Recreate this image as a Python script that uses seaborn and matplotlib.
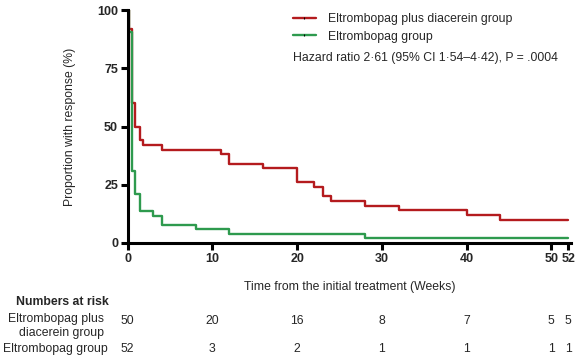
import pandas as pd
import matplotlib
matplotlib.use("Agg")
import matplotlib.pyplot as plt
import matplotlib.transforms as mtransforms
from matplotlib.lines import Line2D
import seaborn as sns

# Kaplan-Meier style step data (weeks, % with response)
combo_time = [0, 0.2, 0.5, 0.9, 1.4, 1.8, 4, 11, 12, 16, 20, 22, 23, 24, 28, 32, 40, 44, 52]
combo_resp = [100, 92, 60, 50, 44, 42, 40, 38, 34, 32, 26, 24, 20, 18, 16, 14, 12, 10, 10]
mono_time = [0, 0.2, 0.5, 0.9, 1.4, 3, 4, 8, 12, 28, 52]
mono_resp = [100, 90.4, 30.8, 21.2, 13.5, 11.5, 7.7, 5.8, 3.8, 1.9, 1.9]

risk_times = [0, 10, 20, 30, 40, 50, 52]
risk_combo = [50, 20, 16, 8, 7, 5, 5]
risk_mono = [52, 3, 2, 1, 1, 1, 1]

groups = ["Eltrombopag plus diacerein group", "Eltrombopag group"]
colors = ["#B41B1E", "#2E9A4E"]

df = pd.concat([
    pd.DataFrame({"time": combo_time, "resp": combo_resp, "group": groups[0]}),
    pd.DataFrame({"time": mono_time, "resp": mono_resp, "group": groups[1]}),
])

sns.set_style("ticks")
plt.rcParams["font.family"] = ["Liberation Sans", "DejaVu Sans"]
fs = 8.8

fig = plt.figure(figsize=(5.86, 3.62), dpi=100)
ax = fig.add_axes([0.218, 0.329, 0.756, 0.643])

for g, c in zip(groups, colors):
    sub = df[df["group"] == g]
    sns.lineplot(data=sub, x="time", y="resp", ax=ax, color=c, lw=1.7,
                 drawstyle="steps-post", sort=False, estimator=None, legend=False)

ax.set_xlim(0, 52.3)
ax.set_ylim(0, 100)
ax.set_xticks(risk_times)
ax.set_yticks([0, 25, 50, 75, 100])
for s in ["top", "right"]:
    ax.spines[s].set_visible(False)
for s in ["left", "bottom"]:
    ax.spines[s].set_linewidth(2.2)
    ax.spines[s].set_color("black")
ax.tick_params(width=2.2, length=5, labelsize=9, color="black", pad=2)
for lab in ax.get_xticklabels() + ax.get_yticklabels():
    lab.set_fontweight("bold")
ax.set_xlabel("Time from the initial treatment (Weeks)", fontsize=fs, labelpad=12)
ax.set_ylabel("Proportion with response (%)", fontsize=fs, labelpad=15)

handles = [Line2D([0], [0], color=c, lw=1.7, marker="|", markersize=2,
                  markeredgecolor="black", markeredgewidth=0.8) for c in colors]
ax.legend(handles, groups, loc="upper left", bbox_to_anchor=(0.372, 0.987),
          frameon=False, fontsize=fs, handlelength=1.9, handletextpad=1.0,
          labelspacing=0.45, borderaxespad=0, borderpad=0)
ax.text(0.372, 0.795, "Hazard ratio 2\u00b761 (95% CI 1\u00b754\u20134\u00b742), P = .0004",
        transform=ax.transAxes, fontsize=fs, va="center", ha="left")

# Numbers at risk table
trans = mtransforms.blended_transform_factory(ax.transData, fig.transFigure)
fig.text(109 / 586, 1 - 302 / 362, "Numbers at risk", fontsize=fs,
         fontweight="bold", ha="right", va="center")
fig.text(104 / 586, 1 - 326 / 362, "Eltrombopag plus\ndiacerein group", fontsize=fs,
         ha="right", va="center", multialignment="right", linespacing=1.15)
fig.text(108 / 586, 1 - 349 / 362, "Eltrombopag group", fontsize=fs,
         ha="right", va="center")
for t, a, b in zip(risk_times, risk_combo, risk_mono):
    ax.text(t, 1 - 321 / 362, str(a), transform=trans, fontsize=fs,
            ha="center", va="center")
    ax.text(t, 1 - 349 / 362, str(b), transform=trans, fontsize=fs,
            ha="center", va="center")

fig.savefig("out.png", dpi=100)
